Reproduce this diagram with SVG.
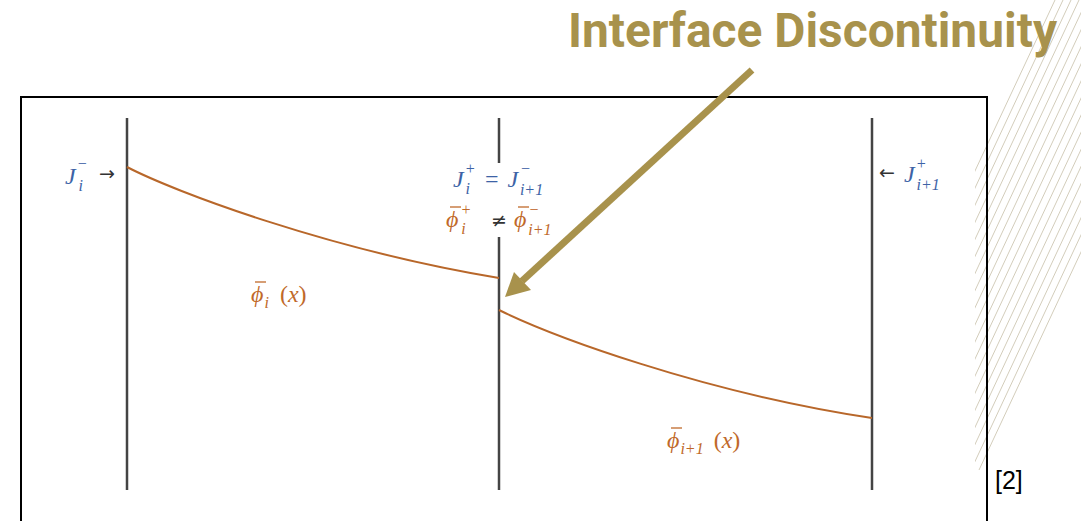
<svg xmlns="http://www.w3.org/2000/svg" width="1081" height="521" viewBox="0 0 1081 521">
<defs>
<clipPath id="hc"><rect x="975" y="0" width="106" height="521"/></clipPath>
<style>
.hatch line{stroke:#d3cdbb;stroke-width:1}
.wall{stroke:#444;stroke-width:2.5}
.curve{fill:none;stroke:#b8672a;stroke-width:2}
.m{font-family:"Liberation Serif","DejaVu Serif",serif;font-style:italic;fill:#3d63a6;font-size:24px}
.o{font-family:"Liberation Serif","DejaVu Serif",serif;font-style:italic;fill:#c0692a;font-size:24px}
.s{font-size:16px}
.up{font-style:normal}
.op{font-family:"DejaVu Sans","Liberation Sans",sans-serif;fill:#333}
.bar{stroke:#c0692a;stroke-width:1.3}
</style>
</defs>
<rect width="1081" height="521" fill="#fff"/>
<g class="hatch" clip-path="url(#hc)">
<line x1="1055" y1="0" x2="835" y2="470"/>
<line x1="1063" y1="0" x2="843" y2="470"/>
<line x1="1071" y1="0" x2="851" y2="470"/>
<line x1="1079" y1="0" x2="859" y2="470"/>
<line x1="1087" y1="0" x2="867" y2="470"/>
<line x1="1095" y1="0" x2="875" y2="470"/>
<line x1="1103" y1="0" x2="883" y2="470"/>
<line x1="1111" y1="0" x2="891" y2="470"/>
<line x1="1119" y1="0" x2="899" y2="470"/>
<line x1="1127" y1="0" x2="907" y2="470"/>
<line x1="1135" y1="0" x2="915" y2="470"/>
<line x1="1143" y1="0" x2="923" y2="470"/>
<line x1="1151" y1="0" x2="931" y2="470"/>
<line x1="1159" y1="0" x2="939" y2="470"/>
<line x1="1167" y1="0" x2="947" y2="470"/>
<line x1="1175" y1="0" x2="955" y2="470"/>
<line x1="1183" y1="0" x2="963" y2="470"/>
<line x1="1191" y1="0" x2="971" y2="470"/>
<line x1="1199" y1="0" x2="979" y2="470"/>
</g>
<rect id="frame" x="21" y="97" width="966" height="440" fill="none" stroke="#000" stroke-width="2"/>
<g id="walls">
<line class="wall" x1="127" y1="118" x2="127" y2="490"/>
<line class="wall" x1="499" y1="118" x2="499" y2="163"/>
<line class="wall" x1="499" y1="237" x2="499" y2="490"/>
<line class="wall" x1="872" y1="118" x2="872" y2="490"/>
</g>
<g id="flux-curves">
<path class="curve" d="M127,167 C175,192 330,250 499,278"/>
<path class="curve" d="M499,310 C550,335 700,392 872,418"/>
</g>
<g id="label-left">
<text class="m" x="65" y="184">J<tspan class="s" dx="1" dy="-15">−</tspan><tspan class="s" dx="-9" dy="22">i</tspan></text>
<text class="op" x="99" y="180" font-size="19">→</text>
</g>
<g id="label-center">
<text class="m" x="453" y="187">J<tspan class="s" dx="1" dy="-13">+</tspan><tspan class="s" dx="-10" dy="20">i</tspan><tspan class="up" dx="15" dy="-7">=</tspan><tspan dx="9">J</tspan><tspan class="s" dx="2" dy="-13">−</tspan><tspan class="s" dx="-11" dy="21">i+1</tspan></text>
<text class="o" x="446" y="227">ϕ<tspan class="s" dx="2" dy="-12">+</tspan><tspan class="s" dx="-10" dy="19">i</tspan></text>
<text class="op" x="491" y="227" font-size="19">≠</text>
<text class="o" x="514" y="227">ϕ<tspan class="s" dx="2" dy="-12">−</tspan><tspan class="s" dx="-11" dy="20">i+1</tspan></text>
<line class="bar" x1="450" y1="207" x2="461" y2="207"/>
<line class="bar" x1="518" y1="207" x2="529" y2="207"/>
</g>
<g id="label-right">
<text class="op" x="879" y="179" font-size="19">←</text>
<text class="m" x="904" y="182">J<tspan class="s" dx="1" dy="-13">+</tspan><tspan class="s" dx="-10" dy="21">i+1</tspan></text>
</g>
<g id="label-phi-i">
<text class="o" x="251" y="302">ϕ<tspan class="s" dx="1" dy="6">i</tspan><tspan class="up" dx="11" dy="-6">(</tspan>x<tspan class="up">)</tspan></text>
<line class="bar" x1="255" y1="282" x2="266" y2="282"/>
</g>
<g id="label-phi-i1">
<text class="o" x="667" y="448">ϕ<tspan class="s" dx="1" dy="6">i+1</tspan><tspan class="up" dx="10" dy="-6">(</tspan>x<tspan class="up">)</tspan></text>
<line class="bar" x1="671" y1="428" x2="682" y2="428"/>
</g>
<g id="title">
<text x="568" y="47" font-family="Roboto,'Liberation Sans',sans-serif" font-weight="bold" font-size="48" fill="#a8924c" textLength="489" lengthAdjust="spacingAndGlyphs">Interface Discontinuity</text>
</g>
<g id="connectors">
<line x1="752" y1="70" x2="522" y2="281" stroke="#a8924c" stroke-width="7"/>
<polygon points="505,297 531,290 514,272" fill="#a8924c"/>
</g>
<text id="ref" x="995" y="489" font-family="'Liberation Sans',Arial,sans-serif" font-size="25" fill="#000">[2]</text>
</svg>
